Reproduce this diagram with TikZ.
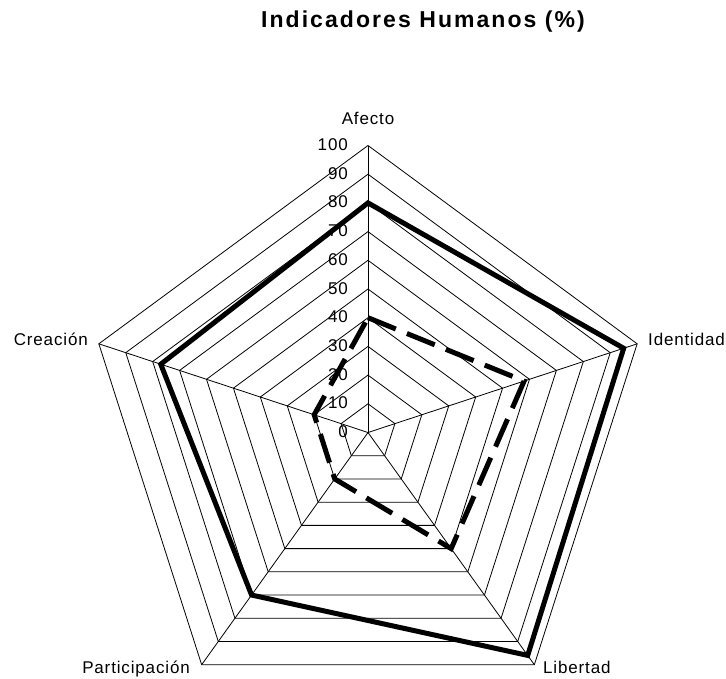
\documentclass[tikz,border=0pt]{standalone}
\usepackage{fontspec}
\setmainfont{Liberation Sans}
\newfontfamily\labfont[LetterSpace=5]{Liberation Sans}
\newfontfamily\titfont[LetterSpace=9]{Liberation Sans}
\begin{document}
\begin{tikzpicture}[x=1pt,y=-1pt,
  gridline/.style={line width=0.8pt, black},
  serieA/.style={line width=5pt, line join=miter, black},
  serieB/.style={line width=5pt, line join=miter, black, dash pattern=on 30pt off 12pt},
  axlab/.style={font=\labfont\fontsize{17}{20}\selectfont, inner sep=0pt},
  ticklab/.style={axlab, anchor=base east, xshift=-20pt, yshift=-5pt},
  titlab/.style={font=\titfont\bfseries\fontsize{23}{27}\selectfont, inner sep=0pt, anchor=base}]
\path[use as bounding box] (0,0) rectangle (726,678);
\node[titlab] (title) at (423,27) {Indicadores Humanos (\%)};
\node[axlab, anchor=base] (lA) at (368,124) {Afecto};
\node[axlab, anchor=base west] (lI) at (648,345) {Identidad};
\node[axlab, anchor=base west] (lL) at (543,673) {Libertad};
\node[axlab, anchor=base east] (lP) at (190,673) {Participación};
\node[axlab, anchor=base east] (lC) at (88,345) {Creación};
\begin{scope}[shift={(368,432.5)}, x=2.83pt, y=2.87pt]
  \coordinate (O) at (0,0);
  \foreach \a/\n in {90/A,18/I,-54/L,-126/P,162/C} { \coordinate (\n) at (\a:100); }
  \foreach \r in {10,20,...,100}
    \draw[gridline] (90:\r) -- (18:\r) -- (-54:\r) -- (-126:\r) -- (162:\r) -- cycle;
  \foreach \n in {A,I,L,P,C} \draw[gridline] (O) -- (\n);
  \foreach \r in {0,10,...,100} \node[ticklab] (t\r) at (90:\r) {\r};
  % solid series
  \coordinate (sA) at (90:80);
  \coordinate (sI) at (18:95);
  \coordinate (sL) at (-54:96);
  \coordinate (sP) at (-126:70);
  \coordinate (sC) at (162:77);
  \draw[serieA] (sA) -- (sI) -- (sL) -- (sP) -- (sC) -- cycle;
  % dashed series
  \coordinate (dA) at (90:40);
  \coordinate (dI) at (18:58);
  \coordinate (dL) at (-54:50);
  \coordinate (dP) at (-126:20);
  \coordinate (dC) at (162:20);
  \draw[serieB] (dA) -- (dI) -- (dL) -- (dP) -- (dC) -- cycle;
\end{scope}
\end{tikzpicture}
\end{document}
